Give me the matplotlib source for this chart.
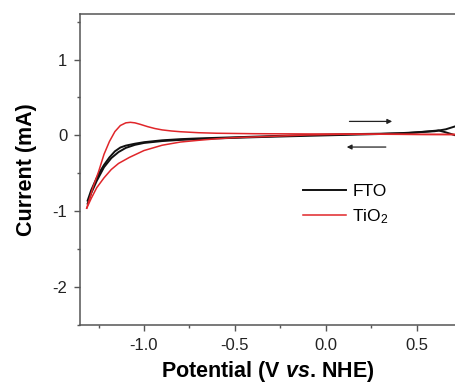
import matplotlib
matplotlib.use('Agg')
import matplotlib.pyplot as plt
from matplotlib.ticker import MultipleLocator, FixedLocator, FixedFormatter

plt.rcParams['font.family'] = ['Liberation Sans', 'DejaVu Sans']
plt.rcParams['mathtext.fontset'] = 'custom'
plt.rcParams['mathtext.rm'] = 'Liberation Sans'
plt.rcParams['mathtext.it'] = 'Liberation Sans:italic:bold'
plt.rcParams['mathtext.default'] = 'regular'

# CV data, FTO (black) forward / reverse sweep
fto_fwd_x = [-1.31, -1.29, -1.26, -1.24, -1.22, -1.19, -1.16, -1.13, -1.10, -1.05, -1.00, -0.90,
             -0.80, -0.70, -0.50, -0.30, -0.10, 0.10, 0.30, 0.40, 0.50, 0.60, 0.66, 0.72]
fto_fwd_y = [-0.86, -0.72, -0.56, -0.47, -0.39, -0.29, -0.21, -0.16, -0.135, -0.11, -0.09, -0.065,
             -0.05, -0.04, -0.025, -0.01, 0.005, 0.015, 0.022, 0.028, 0.04, 0.055, 0.08, 0.125]
fto_rev_x = [0.72, 0.66, 0.62, 0.55, 0.45, 0.30, 0.0, -0.20, -0.40, -0.60, -0.80, -0.90,
             -1.00, -1.05, -1.10, -1.14, -1.18, -1.22, -1.26, -1.29, -1.31]
fto_rev_y = [-0.005, 0.04, 0.065, 0.05, 0.03, 0.018, 0.0, -0.012, -0.025, -0.04, -0.06, -0.075,
             -0.10, -0.125, -0.165, -0.22, -0.30, -0.42, -0.60, -0.76, -0.90]

# TiO2 (red)
tio_fwd_x = [-1.315, -1.30, -1.28, -1.25, -1.22, -1.19, -1.16, -1.13, -1.10, -1.075, -1.05, -1.02,
             -0.98, -0.94, -0.90, -0.85, -0.80, -0.70, -0.60, -0.40, -0.20, 0.0, 0.20, 0.40, 0.55, 0.72]
tio_fwd_y = [-0.96, -0.84, -0.68, -0.48, -0.25, -0.08, 0.05, 0.13, 0.165, 0.172, 0.165, 0.145,
             0.115, 0.09, 0.072, 0.058, 0.048, 0.035, 0.028, 0.022, 0.02, 0.018, 0.016, 0.015, 0.013, 0.013]
tio_rev_x = [0.72, 0.50, 0.30, 0.10, -0.10, -0.30, -0.50, -0.60, -0.70, -0.80, -0.90, -1.00,
             -1.08, -1.14, -1.18, -1.22, -1.26, -1.29, -1.315]
tio_rev_y = [0.01, 0.012, 0.015, 0.015, 0.005, -0.013, -0.03, -0.045, -0.065, -0.088, -0.13, -0.20,
             -0.29, -0.37, -0.45, -0.56, -0.69, -0.83, -0.96]

# scan direction arrows (start, end)
arrow_fwd = [(0.13, 0.184), (0.365, 0.184)]
arrow_rev = [(0.33, -0.154), (0.115, -0.154)]

xticks = [-1.0, -0.5, 0.0, 0.5]
xticklabels = ['-1.0', '-0.5', '0.0', '0.5']
yticks = [-2, -1, 0, 1]
yticklabels = ['-2', '-1', '0', '1']

fig = plt.figure(figsize=(4.56, 3.85), dpi=100)
ax = fig.add_axes([80 / 456, 1 - 325 / 385, 1 - 80 / 456, (325 - 14) / 385])

ax.plot(fto_fwd_x, fto_fwd_y, color='#111111', lw=1.4, label='FTO')
ax.plot(fto_rev_x, fto_rev_y, color='#111111', lw=1.4)
ax.plot(tio_fwd_x, tio_fwd_y, color='#e0262a', lw=1.1, label='TiO$_2$')
ax.plot(tio_rev_x, tio_rev_y, color='#e0262a', lw=1.1)

for a in (arrow_fwd, arrow_rev):
    ax.annotate('', xy=a[1], xytext=a[0],
                arrowprops=dict(arrowstyle='-|>', color='#222222', lw=0.9,
                                mutation_scale=7, shrinkA=0, shrinkB=0))

ax.set_xlim(-1.352, 0.716)
ax.set_ylim(-2.5, 1.6)

ax.xaxis.set_major_locator(FixedLocator(xticks))
ax.xaxis.set_major_formatter(FixedFormatter(xticklabels))
ax.yaxis.set_major_locator(FixedLocator(yticks))
ax.yaxis.set_major_formatter(FixedFormatter(yticklabels))
ax.xaxis.set_minor_locator(MultipleLocator(0.25))
ax.yaxis.set_minor_locator(MultipleLocator(0.5))

for s in ['left', 'bottom', 'top']:
    ax.spines[s].set_color('#555555')
    ax.spines[s].set_linewidth(1.1)
ax.spines['right'].set_visible(False)
ax.tick_params(which='major', direction='out', length=4, width=1, color='#555555',
               labelsize=12, labelcolor='#222222', pad=5)
ax.tick_params(which='minor', direction='out', length=2.5, width=1, color='#555555')

ax.set_xlabel('Potential (V $\\mathit{vs}$. NHE)', fontsize=15.5, fontweight='bold', labelpad=5)
ax.set_ylabel('Current (mA)', fontsize=15.5, fontweight='bold', labelpad=11)

ax.legend(loc='upper left', bbox_to_anchor=(303 / 456, 1 - 184 / 385), bbox_transform=fig.transFigure,
          frameon=False, fontsize=12.5, handlelength=2.5, handletextpad=0.35,
          labelspacing=0.45, borderpad=0, borderaxespad=0)

fig.savefig('out.png', dpi=100)
